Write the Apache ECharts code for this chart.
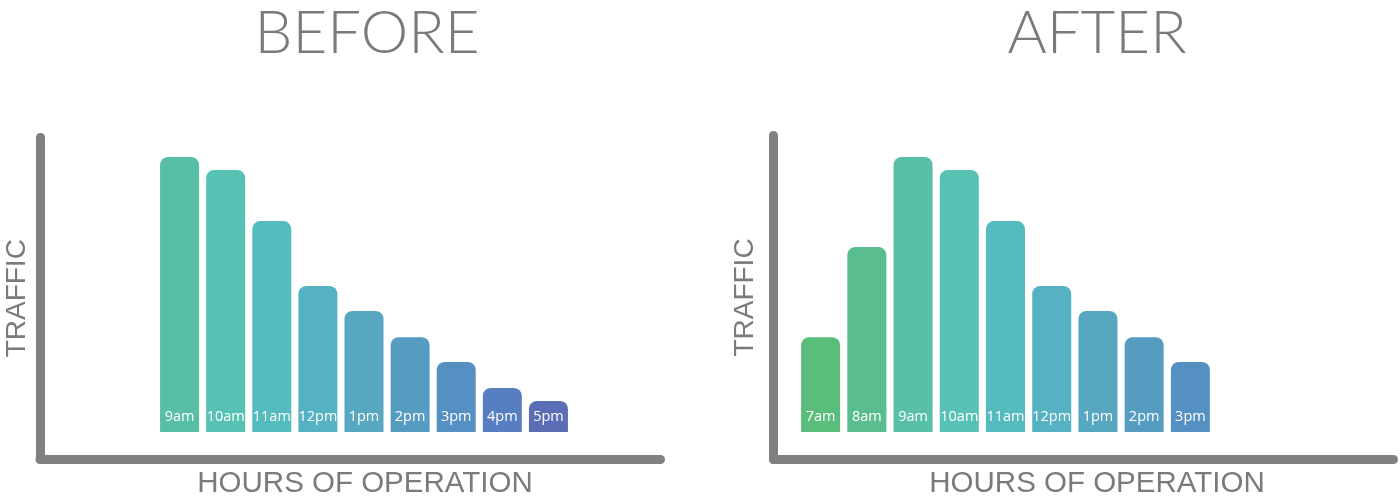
<!DOCTYPE html>
<html>
<head>
<meta charset="utf-8">
<script src="https://cdn.jsdelivr.net/npm/echarts@6/dist/echarts.min.js"></script>
<style>
html,body{margin:0;padding:0;background:#fff;}
#chart{width:1400px;height:499px;}
</style>
</head>
<body>
<div id="chart"></div>
<script>
// ---- data ----
const beforeHours = ['9am','10am','11am','12pm','1pm','2pm','3pm','4pm','5pm'];
const beforeTraffic = [100, 95.3, 76.7, 53.1, 44, 34.5, 25.5, 16, 11.3];
const afterHours = ['7am','8am','9am','10am','11am','12pm','1pm','2pm','3pm'];
const afterTraffic = [34.5, 67.3, 100, 95.3, 76.7, 53.1, 44, 34.5, 25.5];
const panelTitles = ['BEFORE', 'AFTER'];
const yAxisLabel = 'TRAFFIC';
const xAxisLabel = 'HOURS OF OPERATION';

// ---- styles ----
const beforeColors = ['#58bfa6','#57c2b3','#54bcbf','#55b2c2','#56a7bf','#569cc1','#5590c2','#567ec0','#5b6db5'];
const afterColors  = ['#5bbd7b','#5abd8f','#58bfa6','#57c2b3','#54bcbf','#55b2c2','#56a7bf','#569cc1','#5590c2'];
const axisGrey = '#808080';
const textGrey = '#7a7a7a';
const yNameFont = {fontSize:28, fontWeight:'normal', fontFamily:'Liberation Sans', color:textGrey};
const xNameFont = {fontSize:29.5, fontWeight:'normal', fontFamily:'Liberation Sans', color:textGrey};

function frameAxisX(grid){
  return {type:'value', gridIndex:grid, min:0, max:1, axisLine:{show:true, onZero:false, lineStyle:{color:axisGrey, width:9, cap:'round'}},
    axisTick:{show:false}, axisLabel:{show:false}, splitLine:{show:false}};
}
function frameAxisY(grid, gap){
  return {type:'value', gridIndex:grid, min:0, max:1, axisLine:{show:true, onZero:false, lineStyle:{color:axisGrey, width:9, cap:'round'}},
    axisTick:{show:false}, axisLabel:{show:false}, splitLine:{show:false},
    name:yAxisLabel, nameLocation:'middle', nameRotate:90, nameGap:gap,
    nameTextStyle:yNameFont};
}
function barSeries(idx, cats, vals, colors){
  return {type:'bar', xAxisIndex:idx, yAxisIndex:idx, barWidth:39,
    data: vals.map((v,i)=>({value:v, itemStyle:{color:colors[i]}})),
    itemStyle:{borderRadius:[8,8,0,0]},
    label:{show:true, position:'insideBottom', distance:8, color:'#fff', fontSize:14.5, fontFamily:'Open Sans', formatter:'{b}'},
    silent:true, animation:false};
}

const chart = echarts.init(document.getElementById('chart'), null, {renderer:'canvas'});
chart.setOption({
  animation:false,
  backgroundColor:'#fff',
  title:[
    {text:panelTitles[0], left:367, top:4, textAlign:'center', padding:0, textStyle:{fontSize:60, fontWeight:300, fontFamily:'Lato', color:textGrey}},
    {text:panelTitles[1], left:1097, top:4, textAlign:'center', padding:0, textStyle:{fontSize:60, fontWeight:300, fontFamily:'Lato', color:textGrey}},
    {text:xAxisLabel, left:365, top:469, textAlign:'center', padding:0, textStyle:xNameFont},
    {text:xAxisLabel, left:1097, top:469, textAlign:'center', padding:0, textStyle:xNameFont}
  ],
  grid:[
    {left:40, top:137.5, width:620.5, height:321.5},
    {left:156.5, top:157, width:415, height:275},
    {left:773.5, top:135.5, width:620, height:324},
    {left:797.5, top:157, width:416, height:275}
  ],
  xAxis:[
    frameAxisX(0),
    {type:'category', gridIndex:1, data:beforeHours, show:false},
    frameAxisX(2),
    {type:'category', gridIndex:3, data:afterHours, show:false}
  ],
  yAxis:[
    frameAxisY(0, 9),
    {type:'value', gridIndex:1, min:0, max:100, show:false},
    frameAxisY(2, 14),
    {type:'value', gridIndex:3, min:0, max:100, show:false}
  ],
  series:[
    {type:'bar', xAxisIndex:0, yAxisIndex:0, data:[]},
    barSeries(1, beforeHours, beforeTraffic, beforeColors),
    {type:'bar', xAxisIndex:2, yAxisIndex:2, data:[]},
    barSeries(3, afterHours, afterTraffic, afterColors)
  ]
});
</script>
</body>
</html>
